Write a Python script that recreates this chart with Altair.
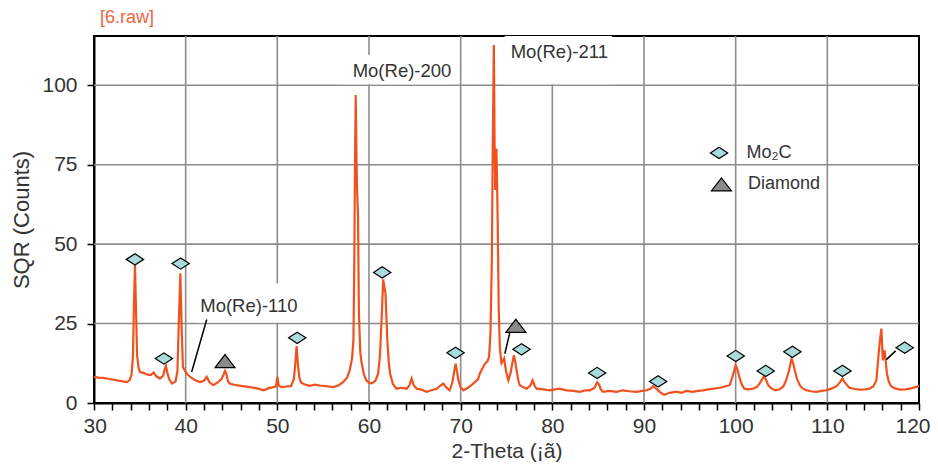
import altair as alt
import pandas as pd

# ---- XRD pattern ----
two_theta = [30.0, 30.5, 31.0, 31.4, 32.0, 32.5, 33.0, 33.6, 33.9, 34.1, 34.25, 34.35, 34.47, 34.58, 34.7, 34.85,
             35.0, 35.4, 35.75, 36.2, 36.5, 36.8, 37.2, 37.55, 37.7, 37.85, 38.0, 38.2, 38.5, 38.9, 39.1, 39.25,
             39.42, 39.55, 39.7, 40.1, 40.5, 41.0, 41.56, 42.0, 42.3, 42.6, 43.0, 43.5, 43.9, 44.15, 44.3, 44.45,
             44.6, 44.8, 45.5, 46.2, 47.0, 47.8, 48.5, 49.0, 49.55, 49.85, 50.0, 50.15, 50.45, 51.0, 51.5, 51.8,
             51.95, 52.1, 52.25, 52.4, 52.6, 53.0, 53.55, 54.1, 54.65, 55.3, 56.1, 56.7, 57.2, 57.6, 57.9, 58.15,
             58.3, 58.4, 58.47, 58.55, 58.63, 58.7, 58.8, 58.9, 59.05, 59.2, 59.45, 59.7, 60.0, 60.3, 60.7, 61.0,
             61.2, 61.4, 61.55, 61.65, 61.8, 61.9, 62.0, 62.15, 62.3, 62.6, 63.0, 63.5, 64.1, 64.4, 64.65, 64.9,
             65.2, 65.7, 66.3, 66.8, 67.4, 67.8, 68.1, 68.4, 68.8, 69.1, 69.3, 69.45, 69.6, 69.75, 70.0, 70.3,
             70.8, 71.4, 71.9, 72.1, 72.4, 72.65, 72.9, 73.1, 73.25, 73.4, 73.5, 73.62, 73.7, 73.77, 73.85, 73.9,
             73.97, 74.05, 74.15, 74.27, 74.45, 74.6, 74.74, 74.95, 75.2, 75.45, 75.6, 75.8, 75.95, 76.1, 76.3,
             76.45, 76.8, 77.2, 77.6, 77.85, 78.1, 78.3, 79.0, 79.7, 80.3, 80.8, 81.55, 82.3, 83.0, 83.6, 84.1,
             84.6, 84.9, 85.1, 85.3, 85.55, 86.2, 87.0, 87.7, 88.4, 89.2, 89.8, 90.3, 90.7, 91.0, 91.3, 91.7,
             92.2, 92.8, 93.5, 94.1, 94.6, 95.3, 95.9, 96.45, 97.0, 97.6, 98.3, 98.8, 99.35, 99.7, 100.0, 100.2,
             100.4, 100.65, 100.95, 101.4, 101.9, 102.3, 102.6, 102.9, 103.1, 103.3, 103.55, 103.9, 104.3, 104.8,
             105.2, 105.5, 105.8, 106.1, 106.3, 106.45, 106.7, 107.0, 107.3, 107.7, 108.2, 108.8, 109.4, 109.9,
             110.5, 111.0, 111.35, 111.65, 111.9, 112.4, 113.0, 113.5, 114.1, 114.6, 115.0, 115.35, 115.6, 115.75,
             115.9, 116.05, 116.25, 116.5, 116.7, 116.95, 117.4, 117.9, 118.5, 119.0, 119.5, 120.0]
sqr_counts = [8.2, 8.0, 7.9, 7.7, 7.4, 7.1, 6.9, 6.6, 7.2, 9.0, 15, 30, 43.4, 30, 15, 11.3,
              9.8, 9.5, 9.0, 8.8, 9.6, 8.4, 7.7, 8.6, 10.5, 11.6, 9.5, 7.5, 6.1, 6.8, 10, 25,
              40.8, 25, 11.3, 9.3, 8.2, 7.2, 6.6, 7.0, 8.2, 6.5, 5.6, 6.5, 7.5, 9.0, 10.1, 9.0,
              7.0, 6.1, 5.6, 5.3, 5.0, 4.6, 4.0, 4.6, 5.0, 5.2, 8.2, 5.5, 5.0, 5.2, 5.3, 7.5,
              12, 17.9, 12, 8, 6.4, 5.8, 5.4, 5.8, 5.5, 5.3, 5.0, 5.6, 6.6, 8.0, 10.3, 14,
              19.7, 45, 75, 96.9, 78, 67, 59.7, 28, 16, 12.5, 9.0, 7.1, 6.4, 6.2, 7.0, 9.3,
              15, 28, 38.9, 37, 34.5, 27, 19.7, 13, 9.3, 6.0, 4.5, 4.8, 4.5, 5.5, 7.7, 5.5,
              4.5, 4.2, 3.5, 4.0, 4.5, 5.5, 6.1, 5.0, 4.0, 6.5, 10, 12.4, 10, 7.1, 5.0, 4.0,
              4.8, 6.2, 7.5, 9.3, 11, 12.4, 13, 14.5, 22, 45, 80, 112.7, 82, 67, 77, 80.1,
              70, 54.4, 30, 17.6, 12.5, 13.2, 14, 10, 7.1, 9.5, 12, 15.0, 13, 10.3, 7.0,
              5.6, 5.0, 4.5, 5.5, 7.1, 5.2, 4.5, 4.3, 4.0, 4.3, 4.5, 4.0, 3.8, 3.5, 4.0, 4.0,
              4.8, 6.5, 5.8, 4.2, 3.5, 3.8, 3.5, 4.0, 3.7, 3.5, 3.8, 4.0, 4.5, 5.3, 4.6, 3.5,
              2.6, 3.2, 3.6, 3.2, 3.8, 3.5, 3.8, 4.0, 4.3, 4.5, 4.8, 5.2, 5.6, 8.7, 11.9, 10.5,
              8.2, 6.0, 4.5, 4.3, 4.5, 5.0, 6.1, 7.5, 8.4, 7.4, 5.6, 4.6, 4.0, 4.3,
              5.2, 7.1, 10, 14, 12.2, 10.3, 7.5, 5.6, 4.6, 4.0, 3.7, 3.5, 3.8, 4.0,
              4.6, 5.3, 6.4, 7.7, 6.5, 4.8, 4.4, 4.2, 4.3, 4.5, 5.2, 7.1, 15.6, 20,
              23.4, 13.4, 16.6, 9.3, 6.8, 5.3, 4.6, 4.2, 4.3, 4.5, 4.9, 5.3]

# ---- phase markers ----
mo2c_x = [34.47, 37.63, 39.45, 52.17, 61.44, 69.44, 76.64, 84.89, 91.54, 100.01, 103.28, 106.19, 111.65, 118.44]
mo2c_y = [45.2, 14.0, 43.9, 20.5, 41.1, 15.8, 16.9, 9.45, 6.8, 14.8, 10.1, 16.1, 10.1, 17.4]
diamond_x = [44.29, 76.02]
diamond_y = [13.2, 24.3]

# ---- leader lines ----
leader_x = [40.65, 74.82, 116.44]
leader_y = [9.75, 15.5, 13.65]
leader_x2 = [42.3, 75.37, 117.45]
leader_y2 = [26.3, 22.3, 16.4]

# ---- peak labels ----
label_text = ["Mo(Re)-110", "Mo(Re)-200", "Mo(Re)-211"]
label_x = [46.9, 63.6, 80.76]
label_y = [30.5, 104.5, 110.5]
box_x = [41.0, 56.8, 74.8]
box_x2 = [52.8, 68.9, 86.5]
box_y = [25.3, 100.3, 100.3]
box_y2 = [37.6, 109.5, 115.5]

# ---- legend ----
legend_names = ["Mo\u2082C", "Diamond"]
legend_marker_x = [98.19, 98.45]
legend_marker_y = [78.7, 68.8]
legend_text_x = [101.17, 101.35]

grid_x = [40, 50, 60, 70, 80, 90, 100, 110]
grid_y = [25, 50, 75, 100]
x_tick_values = list(range(30, 121, 2))
y_tick_values = [0, 25, 50, 75, 100]

LINE = "#F0521F"
TXT = "#333333"

xs = alt.Scale(domain=[30, 120], nice=False, zero=False)
ys = alt.Scale(domain=[0, 115.5], nice=False, zero=False)
xaxis = alt.Axis(values=x_tick_values, labelExpr="datum.value % 10 === 0 ? datum.label : ''",
                 title="2-Theta (\u00a1\u00e3)", grid=False, labelFlush=True, labelFlushOffset=11,
                 labelOverlap=False,
                 tickSize=7, tickWidth=1.5, tickColor="black", domainColor="black", domainWidth=2,
                 labelFontSize=21, labelColor=TXT, labelPadding=5, titleFontSize=21, titleColor=TXT,
                 titleFontWeight="normal", titlePadding=4)
yaxis = alt.Axis(values=y_tick_values, title="SQR (Counts)", grid=False, labelFlush=False,
                 labelOverlap=False, tickSize=7, tickWidth=1.5, tickColor="black", domainColor="black",
                 domainWidth=2, labelFontSize=21, labelColor=TXT, labelPadding=10, titleFontSize=22,
                 titleColor=TXT, titleFontWeight="normal", titlePadding=8)

X = lambda f="x": alt.X(f"{f}:Q", scale=xs, axis=xaxis)
Y = lambda f="y": alt.Y(f"{f}:Q", scale=ys, axis=yaxis)

df_curve = pd.DataFrame({"x": two_theta, "y": sqr_counts})
df_mo2c = pd.DataFrame({"x": mo2c_x + [legend_marker_x[0]], "y": mo2c_y + [legend_marker_y[0]]})
df_diam = pd.DataFrame({"x": diamond_x + [legend_marker_x[1]], "y": diamond_y + [legend_marker_y[1]]})
df_lead = pd.DataFrame({"x": leader_x, "y": leader_y, "x2": leader_x2, "y2": leader_y2})
df_lab = pd.DataFrame({"x": label_x, "y": label_y, "t": label_text})
df_box = pd.DataFrame({"x": box_x, "x2": box_x2, "y": box_y, "y2": box_y2})
df_leg = pd.DataFrame({"x": legend_text_x, "y": legend_marker_y, "t": legend_names})
df_gx = pd.DataFrame({"x": grid_x})
df_gy = pd.DataFrame({"y": grid_y})

gridx = alt.Chart(df_gx).mark_rule(color="#8C8C8C", strokeWidth=1.6).encode(x=X())
gridy = alt.Chart(df_gy).mark_rule(color="#8C8C8C", strokeWidth=1.6).encode(y=Y())
boxes = alt.Chart(df_box).mark_rect(color="white").encode(x=X(), x2="x2:Q", y=Y(), y2="y2:Q")
curve = alt.Chart(df_curve).mark_line(color=LINE, strokeWidth=2.2).encode(x=X(), y=Y())
leads = alt.Chart(df_lead).mark_rule(color="black", strokeWidth=1.5).encode(
    x=X(), y=Y(), x2="x2:Q", y2="y2:Q")
diamond_path = "M -1 0 L 0 -0.65 L 1 0 L 0 0.65 Z"
tri_path = "M -1 0.65 L 0 -0.65 L 1 0.65 Z"
mo2c = alt.Chart(df_mo2c).mark_point(shape=diamond_path, size=300, filled=True, fill="#A8DCDC",
                                     stroke="black", strokeWidth=1.2, opacity=1).encode(x=X(), y=Y())
diam = alt.Chart(df_diam).mark_point(shape=tri_path, size=400, filled=True, fill="#8A8A8A",
                                     stroke="black", strokeWidth=1.2, opacity=1).encode(x=X(), y=Y())
labels = alt.Chart(df_lab).mark_text(fontSize=18.5, color=TXT, align="center", baseline="middle").encode(
    x=X(), y=Y(), text="t:N")
legend = alt.Chart(df_leg).mark_text(fontSize=18, color=TXT, align="left", baseline="middle").encode(
    x=X(), y=Y(), text="t:N")

chart = alt.layer(gridx, gridy, boxes, curve, leads, mo2c, diam, labels, legend).properties(
    width=825, height=367,
    title=alt.TitleParams("[6.raw]", anchor="start", frame="group", fontSize=18, color="#F0633F",
                          fontWeight="normal", dx=6, offset=8),
    autosize=alt.AutoSizeParams(type="none"),
    padding={"left": 86, "top": 28, "right": 11, "bottom": 61},
).configure(font="Liberation Sans").configure_view(stroke="black", strokeWidth=2)

chart.save("out.html", embed_options={"renderer": "svg", "actions": False})
